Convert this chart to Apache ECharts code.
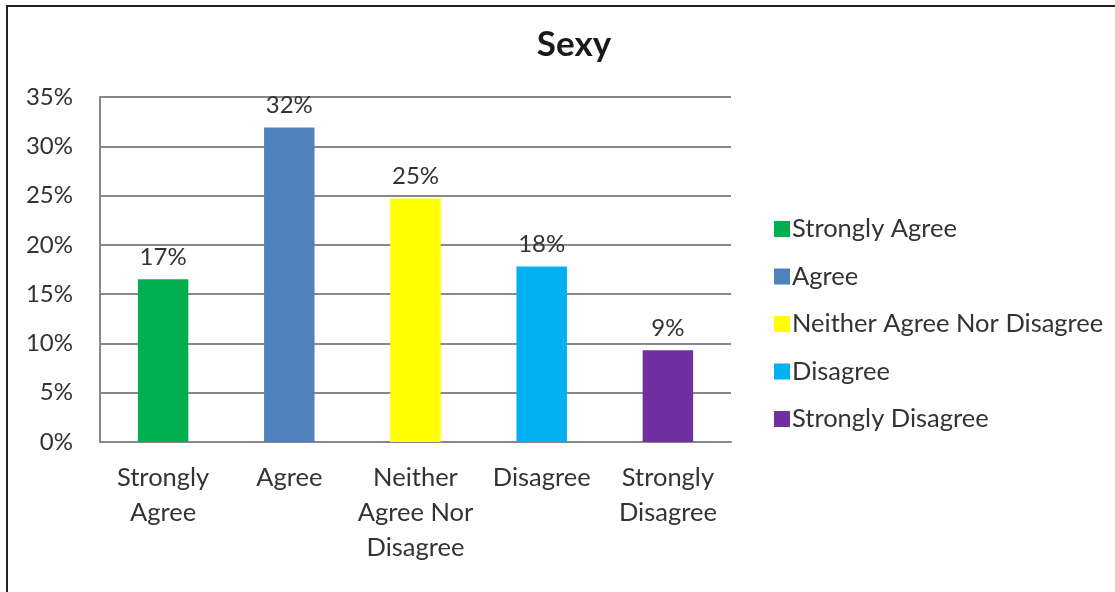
<!DOCTYPE html>
<html>
<head>
<meta charset="utf-8">
<script src="https://cdn.jsdelivr.net/npm/echarts@6/dist/echarts.min.js"></script>
<style>
  html, body { margin: 0; padding: 0; background: #fff; }
  #frame {
    position: absolute; left: 6px; top: 5px; width: 1120px; height: 600px;
    border-left: 2px solid #222; border-top: 2px solid #222;
  }
  #chart { position: absolute; left: 0; top: 0; width: 1115px; height: 592px; }
</style>
</head>
<body>
<div id="frame"></div>
<div id="chart"></div>
<script>
// 分类和数值
const categories = ['Strongly\nAgree', 'Agree', 'Neither\nAgree Nor\nDisagree', 'Disagree', 'Strongly\nDisagree']
const legendNames = ['Strongly Agree', 'Agree', 'Neither Agree Nor Disagree', 'Disagree', 'Strongly Disagree']
const values = [0.165, 0.319, 0.247, 0.178, 0.093]
const colors = ['#00B050', '#4F81BD', '#FFFF00', '#00B0F0', '#7030A0']
const yTicks = [0, 0.05, 0.10, 0.15, 0.20, 0.25, 0.30, 0.35]

const FONT = 'Lato'
const TEXT = '#333'

const chart = echarts.init(document.getElementById('chart'))

// 每个分类一个系列，方便图例着色
const series = legendNames.map((name, i) => ({
  name: name,
  type: 'bar',
  stack: 'all',
  barWidth: '40%',
  data: values.map((v, j) => (j === i ? v : '-')),
  itemStyle: { color: colors[i] },
  label: {
    show: true,
    position: 'top',
    distance: 10,
    color: TEXT,
    fontFamily: FONT,
    fontSize: 24,
    formatter: p => Math.round(p.value * 100) + '%'
  }
}))

chart.setOption({
  animation: false,
  title: {
    text: 'Sexy',
    left: 569,
    textAlign: 'center',
    top: 22,
    textStyle: { fontFamily: FONT, fontSize: 35, fontWeight: 'bold', color: '#1a1a1a' }
  },
  legend: {
    orient: 'vertical',
    left: 769,
    top: 211,
    itemWidth: 16,
    itemHeight: 16,
    itemGap: 21.5,
    icon: 'rect',
    textStyle: { fontFamily: FONT, fontSize: 25.5, lineHeight: 24, color: TEXT, padding: [0, 0, 0, -3] },
    data: legendNames
  },
  grid: { left: 100, right: 384, top: 97, bottom: 150 },
  xAxis: {
    type: 'category',
    data: categories,
    axisTick: { show: false },
    axisLine: { lineStyle: { color: '#888', width: 2 } },
    axisLabel: {
      interval: 0,
      margin: 18,
      color: TEXT,
      fontFamily: FONT,
      fontSize: 25.5,
      lineHeight: 35
    }
  },
  yAxis: {
    type: 'value',
    min: yTicks[0],
    max: yTicks[yTicks.length - 1],
    interval: 0.05,
    axisLine: { show: true, lineStyle: { color: '#888', width: 2 } },
    axisTick: { show: false },
    splitLine: { lineStyle: { color: '#888', width: 2 } },
    axisLabel: {
      margin: 27,
      color: TEXT,
      fontFamily: FONT,
      fontSize: 24,
      formatter: v => Math.round(v * 100) + '%'
    }
  },
  series: series
})
</script>
</body>
</html>
